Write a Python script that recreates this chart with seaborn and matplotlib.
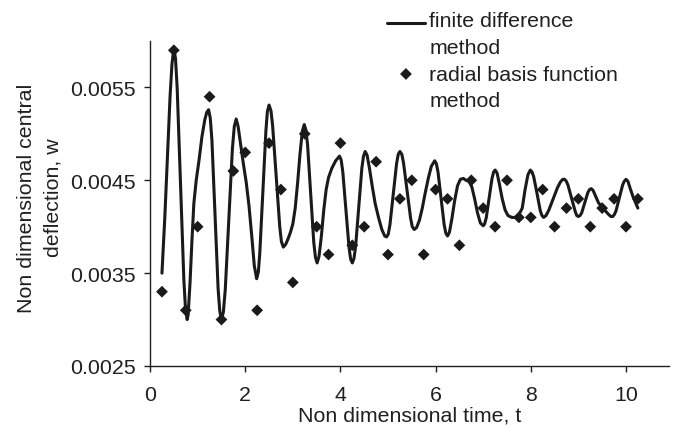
import matplotlib
matplotlib.use("Agg")
import matplotlib.pyplot as plt
import seaborn as sns
from matplotlib.ticker import FormatStrFormatter

# finite difference method (line)
fd_t = [0.25, 0.31, 0.37, 0.42, 0.46, 0.50,
        0.535, 0.57, 0.64, 0.71, 0.745, 0.78,
        0.80, 0.84, 0.88, 0.92, 0.97, 1.03, 1.09, 1.15, 1.19, 1.23,
        1.265, 1.30, 1.365, 1.43, 1.465, 1.50,
        1.54, 1.58, 1.655, 1.73, 1.77, 1.81,
        1.85, 1.90, 1.96, 2.02, 2.08, 2.14, 2.19, 2.24,
        2.275, 2.305, 2.37, 2.435, 2.465, 2.50,
        2.54, 2.575, 2.65, 2.725, 2.76, 2.80,
        2.85, 2.90, 2.95, 3.00, 3.05, 3.10, 3.15, 3.20, 3.24,
        3.275, 3.31, 3.375, 3.44, 3.475, 3.51,
        3.55, 3.60, 3.65, 3.70, 3.75, 3.82, 3.90, 3.98,
        4.015, 4.05, 4.115, 4.18, 4.215, 4.25,
        4.285, 4.32, 4.385, 4.45, 4.485, 4.52,
        4.56, 4.61, 4.67, 4.73, 4.80, 4.87, 4.93, 4.97,
        5.005, 5.04, 5.11, 5.18, 5.215, 5.25,
        5.29, 5.325, 5.40, 5.475, 5.51, 5.55,
        5.60, 5.66, 5.72, 5.78, 5.85, 5.91, 5.98,
        6.015, 6.05, 6.115, 6.18, 6.215, 6.25,
        6.29, 6.34, 6.40, 6.46, 6.52, 6.58, 6.64, 6.70, 6.76, 6.82, 6.88, 6.94, 7.00,
        7.03, 7.065, 7.125, 7.185, 7.22, 7.25,
        7.29, 7.34, 7.40, 7.46, 7.52, 7.60, 7.68, 7.75, 7.82, 7.88, 7.94, 7.99,
        8.025, 8.06, 8.13, 8.20, 8.235, 8.27,
        8.32, 8.38, 8.44, 8.50, 8.56, 8.62, 8.67, 8.71,
        8.745, 8.78, 8.855, 8.93, 8.965, 9.00,
        9.035, 9.07, 9.135, 9.20, 9.235, 9.27,
        9.31, 9.36, 9.42, 9.48, 9.55, 9.62, 9.68, 9.72,
        9.755, 9.79, 9.86, 9.93, 9.965, 10.00,
        10.04, 10.09, 10.15, 10.20, 10.25]
fd_w = [0.00350, 0.00410, 0.00480, 0.00540, 0.00575, 0.00592,
        0.00581, 0.00549, 0.00446, 0.00343, 0.00311, 0.00300,
        0.00305, 0.00340, 0.00385, 0.00425, 0.00450, 0.00472, 0.00497, 0.00515, 0.00523, 0.00526,
        0.00517, 0.00493, 0.00413, 0.00333, 0.00309, 0.00300,
        0.00308, 0.00332, 0.00408, 0.00484, 0.00508, 0.00516,
        0.00508, 0.00490, 0.00468, 0.00448, 0.00422, 0.00388, 0.00358, 0.00344,
        0.00351, 0.00371, 0.00437, 0.00504, 0.00524, 0.00531,
        0.00525, 0.00509, 0.00455, 0.00400, 0.00384, 0.00378,
        0.00381, 0.00387, 0.00394, 0.00403, 0.00420, 0.00447, 0.00478, 0.00503, 0.00510,
        0.00504, 0.00488, 0.00435, 0.00383, 0.00367, 0.00361,
        0.00368, 0.00390, 0.00418, 0.00440, 0.00453, 0.00463, 0.00471, 0.00476,
        0.00472, 0.00459, 0.00419, 0.00378, 0.00365, 0.00361,
        0.00366, 0.00379, 0.00421, 0.00463, 0.00476, 0.00481,
        0.00477, 0.00463, 0.00443, 0.00425, 0.00410, 0.00397, 0.00390, 0.00389,
        0.00392, 0.00402, 0.00435, 0.00468, 0.00478, 0.00481,
        0.00478, 0.00469, 0.00439, 0.00409, 0.00400, 0.00397,
        0.00399, 0.00407, 0.00420, 0.00436, 0.00453, 0.00465, 0.00471,
        0.00468, 0.00459, 0.00431, 0.00402, 0.00393, 0.00390,
        0.00394, 0.00408, 0.00428, 0.00444, 0.00451, 0.00452, 0.00450, 0.00449, 0.00443, 0.00430, 0.00415, 0.00404, 0.00401,
        0.00403, 0.00410, 0.00431, 0.00452, 0.00459, 0.00461,
        0.00458, 0.00446, 0.00430, 0.00418, 0.00412, 0.00410, 0.00410, 0.00413, 0.00420, 0.00440, 0.00456, 0.00461,
        0.00459, 0.00454, 0.00436, 0.00417, 0.00412, 0.00410,
        0.00412, 0.00418, 0.00426, 0.00434, 0.00442, 0.00448, 0.00451, 0.00451,
        0.00449, 0.00445, 0.00431, 0.00417, 0.00412, 0.00411,
        0.00412, 0.00415, 0.00426, 0.00437, 0.00440, 0.00441,
        0.00439, 0.00433, 0.00426, 0.00422, 0.00418, 0.00414, 0.00411, 0.00411,
        0.00413, 0.00417, 0.00431, 0.00445, 0.00449, 0.00451,
        0.00449, 0.00441, 0.00432, 0.00426, 0.00420]

# radial basis function method (diamonds)
rbf_t = [0.25, 0.50, 0.75, 1.00, 1.25, 1.50, 1.75, 2.00, 2.25, 2.50,
         2.75, 3.00, 3.25, 3.50, 3.75, 4.00, 4.25, 4.50, 4.75, 5.00,
         5.25, 5.50, 5.75, 6.00, 6.25, 6.50, 6.75, 7.00, 7.25, 7.50,
         7.75, 8.00, 8.25, 8.50, 8.75, 9.00, 9.25, 9.50, 9.75, 10.00, 10.25]
rbf_w = [0.0033, 0.0059, 0.0031, 0.0040, 0.0054, 0.0030, 0.0046, 0.0048, 0.0031, 0.0049,
         0.0044, 0.0034, 0.0050, 0.0040, 0.0037, 0.0049, 0.0038, 0.0040, 0.0047, 0.0037,
         0.0043, 0.0045, 0.0037, 0.0044, 0.0043, 0.0038, 0.0045, 0.0042, 0.0040, 0.0045,
         0.0041, 0.0041, 0.0044, 0.0040, 0.0042, 0.0043, 0.0040, 0.0042, 0.0043, 0.0040, 0.0043]

x_ticks = [0, 2, 4, 6, 8, 10]
y_ticks = [0.0025, 0.0035, 0.0045, 0.0055]
x_label = "Non dimensional time, t"
y_label = "Non dimensional central\ndeflection, w"
fd_label = "finite difference\nmethod"
rbf_label = "radial basis function\nmethod"

sns.set_theme(style="ticks")
plt.rcParams["font.family"] = ["Liberation Sans", "DejaVu Sans"]
ink = "#231f20"
fs = 15.4

fig, ax = plt.subplots(figsize=(6.79, 4.31), dpi=100)
fig.subplots_adjust(left=0.221, right=0.985, bottom=0.1485, top=0.9026)

sns.lineplot(x=fd_t, y=fd_w, ax=ax, color="#1a1a1a", linewidth=2.2,
             sort=False, estimator=None, label=fd_label)
sns.scatterplot(x=rbf_t, y=rbf_w, ax=ax, marker="D", s=36, color="#1a1a1a",
                edgecolor="none", label=rbf_label, zorder=3)

ax.set_xlim(0, 10.9)
ax.set_ylim(0.0025, 0.006)
ax.set_xticks(x_ticks)
ax.set_yticks(y_ticks)
ax.yaxis.set_major_formatter(FormatStrFormatter("%.4f"))
ax.tick_params(axis="both", direction="out", length=4, width=1, color=ink,
               labelsize=fs, labelcolor=ink)
ax.tick_params(axis="y", pad=6)
ax.tick_params(axis="x", pad=10)
sns.despine(ax=ax)
for s in ("left", "bottom"):
    ax.spines[s].set_color(ink)
    ax.spines[s].set_linewidth(1.0)

ax.set_xlabel(x_label, fontsize=fs, color=ink, labelpad=0.5)
ax.set_ylabel(y_label, fontsize=fs, color=ink, linespacing=1.5)
ax.yaxis.set_label_coords(-0.168, 0.52)

leg = ax.legend(loc="upper left", bbox_to_anchor=(387 / 679, 1 - 12 / 431),
                bbox_transform=fig.transFigure, frameon=False, fontsize=fs,
                borderpad=0, borderaxespad=0, handlelength=1.77,
                handletextpad=0.2, labelspacing=0.38)
for t in leg.get_texts():
    t.set_color(ink)
    t.set_linespacing(1.5)
for col in leg._legend_handle_box.get_children():
    for row in col.get_children():
        row.align = "top"
# lower the line handle so it sits level with the first text line
line_handle = leg.legend_handles[0]
line_handle.set_ydata([y - 3.0 for y in line_handle.get_ydata()])

fig.savefig("out.png", dpi=100)
